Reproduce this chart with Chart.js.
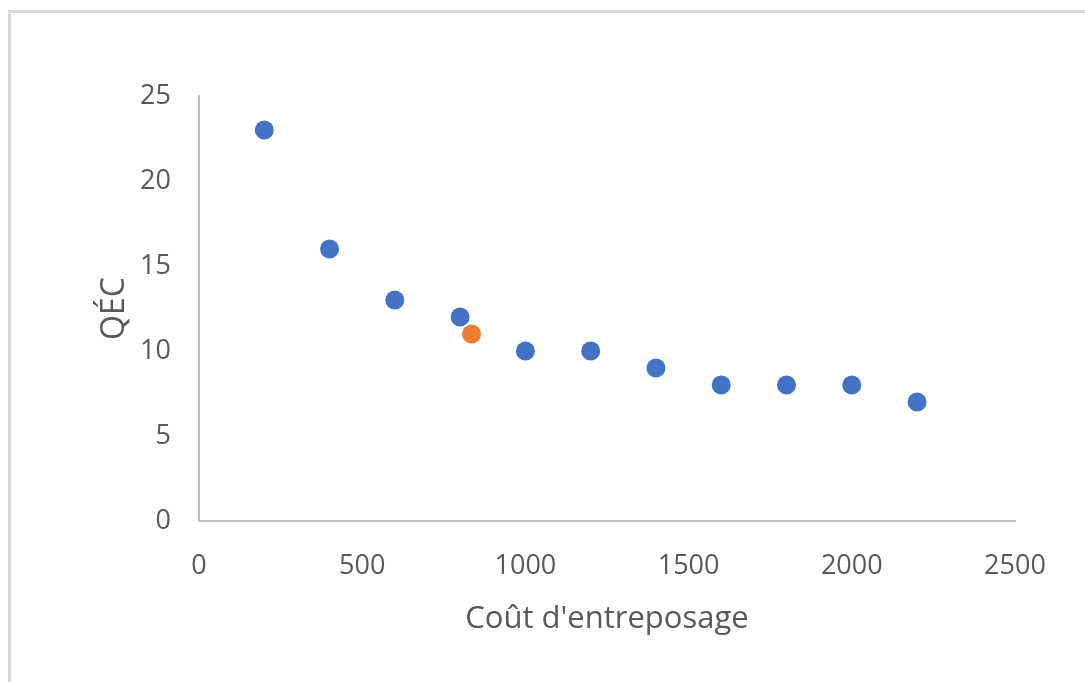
<!DOCTYPE html>
<html lang="fr">
<head>
<meta charset="utf-8">
<title>QÉC selon le coût d'entreposage</title>
<script src="https://cdn.jsdelivr.net/npm/chart.js@4/dist/chart.umd.min.js"></script>
<style>
  html, body { margin: 0; padding: 0; background: #fff; }
  body { width: 1085px; height: 682px; position: relative; overflow: hidden; }
  .frame {
    position: absolute; left: 8px; top: 10px; right: -10px; bottom: -10px;
    border-left: 3px solid #d9d9d9; border-top: 3px solid #d9d9d9;
  }
  #wrap { position: absolute; left: 0; top: 0; width: 1085px; height: 682px; }
</style>
</head>
<body>
<div class="frame"></div>
<div id="wrap"><canvas id="eoqChart"></canvas></div>
<script>
// Storage cost vs economic order quantity
const storageCost = [200, 400, 600, 800, 1000, 1200, 1400, 1600, 1800, 2000, 2200];
const eoqValues = [23, 16, 13, 12, 10, 10, 9, 8, 8, 8, 7];
// Highlighted point
const markedCost = [835];
const markedEoq = [11];

const xTicks = [0, 500, 1000, 1500, 2000, 2500];
const yTicks = [0, 5, 10, 15, 20, 25];

const textColor = '#595959';
const axisColor = '#bfbfbf';
const fontFamily = '"Open Sans", "Noto Sans", sans-serif';

const toPoints = (xs, ys) => xs.map((x, i) => ({ x, y: ys[i] }));

new Chart(document.getElementById('eoqChart'), {
  type: 'scatter',
  data: {
    datasets: [
      {
        label: 'QÉC',
        data: toPoints(storageCost, eoqValues),
        backgroundColor: '#4472c4',
        borderWidth: 0,
        pointRadius: 9.5,
      },
      {
        label: 'Point',
        data: toPoints(markedCost, markedEoq),
        backgroundColor: '#ed7d31',
        borderWidth: 0,
        pointRadius: 9.5,
      }
    ]
  },
  options: {
    responsive: true,
    maintainAspectRatio: false,
    animation: false,
    layout: { padding: { left: 96, top: 96, right: 70, bottom: 44 } },
    plugins: {
      legend: { display: false },
      tooltip: { enabled: false }
    },
    scales: {
      x: {
        type: 'linear',
        min: 0,
        max: 2500,
        afterBuildTicks: axis => { axis.ticks = xTicks.map(v => ({ value: v })); },
        afterFit: axis => { axis.height = 117; },
        grid: { drawOnChartArea: false, drawTicks: false, color: 'transparent' },
        border: { display: true, color: axisColor, width: 2 },
        ticks: {
          color: textColor,
          padding: 29,
          font: { family: fontFamily, size: 27 },
          callback: v => String(v)
        },
        title: {
          display: true,
          text: "Coût d'entreposage",
          color: textColor,
          padding: 0,
          font: { family: fontFamily, size: 31 }
        }
      },
      y: {
        type: 'linear',
        min: 0,
        max: 25,
        afterBuildTicks: axis => { axis.ticks = yTicks.map(v => ({ value: v })); },
        afterFit: axis => { axis.width = 103; },
        grid: { drawOnChartArea: false, drawTicks: false, color: 'transparent' },
        border: { display: true, color: axisColor, width: 2 },
        ticks: {
          color: textColor,
          padding: 28,
          font: { family: fontFamily, size: 27 },
          callback: v => String(v)
        },
        title: {
          display: true,
          text: 'QÉC',
          color: textColor,
          padding: 0,
          font: { family: fontFamily, size: 32 }
        }
      }
    }
  }
});
</script>
</body>
</html>
